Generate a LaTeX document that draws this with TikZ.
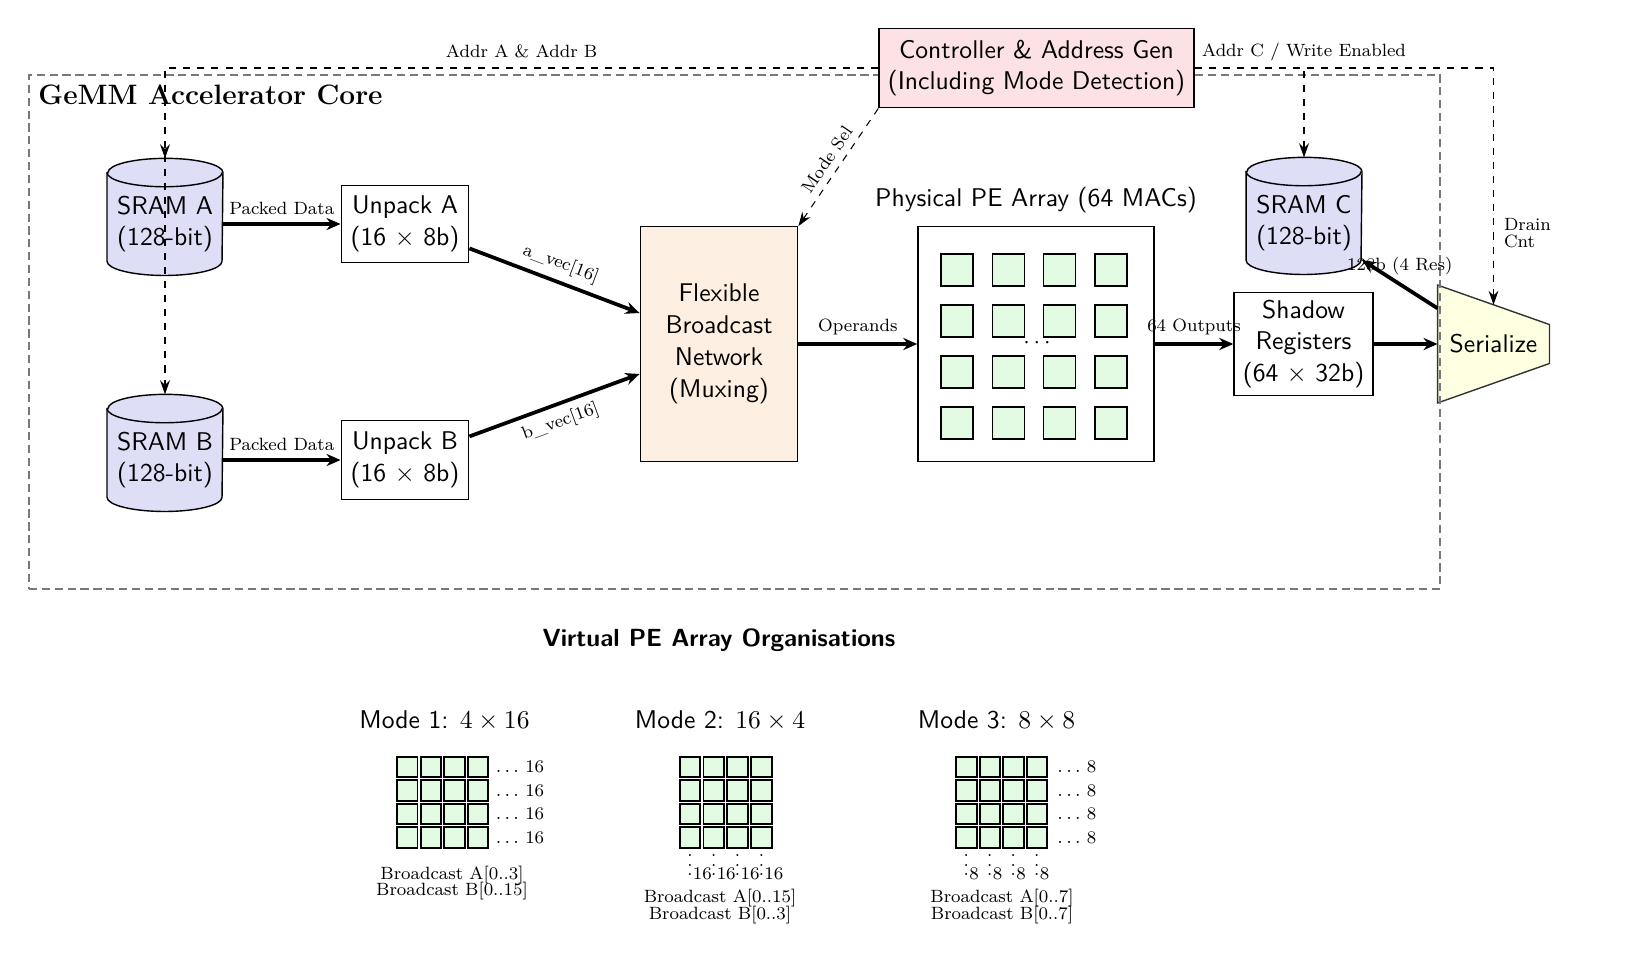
\documentclass[tikz,border=0pt]{standalone}
\usetikzlibrary{arrows.meta,calc,backgrounds}
\newdimen\pxu
\pxu=0.4274pt
\newcommand\lblfont{\fontsize{7.6}{7}\selectfont\lineskiplimit=-5pt\relax}
\definecolor{sramfill}{RGB}{222,222,247}
\definecolor{ctrlfill}{RGB}{252,226,228}
\definecolor{fbnfill}{RGB}{253,240,226}
\definecolor{serfill}{RGB}{255,255,225}
\definecolor{pefill}{RGB}{226,250,226}
\definecolor{coregray}{RGB}{120,120,120}
\tikzset{
  txt/.style={font=\fontsize{10.95}{13.6}\selectfont\sffamily, align=center},
  lbl/.style={font=\lblfont, inner sep=3pt},
  blk/.style={draw, line width=0.6pt, txt, inner sep=0pt},
  bus/.style={line width=1.6pt, -{Stealth[length=6pt,width=5.2pt]}},
  ctl/.style={dashed, line width=0.45pt, -{Stealth[length=6pt,width=4.2pt,inset=2pt]}},
  cylbox/.style={txt, inner sep=0pt, minimum width=115*\pxu, minimum height=102*\pxu},
  pesq/.style={draw, line width=0.6pt, fill=pefill, minimum size=32*\pxu, inner sep=0pt},
  msq/.style={draw, line width=0.8pt, fill=pefill, minimum size=20.5*\pxu, inner sep=0pt},
}
\newcommand\drawcyl[1]{%
  \draw[fill=sramfill, line width=0.6pt] (#1.north west) -- ([yshift=14.2*\pxu]#1.south west)
    arc[start angle=180, end angle=360, x radius=57.5*\pxu, y radius=14.2*\pxu]
    -- (#1.north east)
    arc[start angle=0, end angle=180, x radius=57.5*\pxu, y radius=14.2*\pxu] -- cycle;
  \draw[line width=0.6pt] (#1.north west) arc[start angle=180, end angle=360, x radius=57.5*\pxu, y radius=14.2*\pxu];
}
\begin{document}
\begin{tikzpicture}[x=0.4274pt, y=0.4274pt]
\useasboundingbox (0,0) rectangle (1636,-961);
% core box
\node[draw=coregray, dash pattern=on 3.5pt off 2pt, line width=0.85pt, minimum width=1411*\pxu, minimum height=514*\pxu, inner sep=0pt] (core) at (734.5,-332) {};
\node[anchor=base west, inner sep=0pt, font=\fontsize{12}{14}\selectfont\bfseries] (coretitle) at (38,-104) {GeMM Accelerator Core};
% blocks
\node[cylbox] (sramA) at (165,-224) {SRAM A\\(128-bit)};
\node[cylbox] (sramB) at (165,-460) {SRAM B\\(128-bit)};
\node[cylbox] (sramC) at (1304,-223) {SRAM C\\(128-bit)};
\node[blk, minimum width=127.5*\pxu, minimum height=77*\pxu] (unpA) at (405,-224) {Unpack A\\(16 $\times$ 8b)};
\node[blk, minimum width=127.5*\pxu, minimum height=79*\pxu] (unpB) at (405,-460) {Unpack B\\(16 $\times$ 8b)};
\node[blk, fill=fbnfill, minimum width=157.5*\pxu, minimum height=234.5*\pxu] (fbn) at (719,-344) {Flexible\\Broadcast\\Network\\(Muxing)};
\node[draw, line width=0.6pt, minimum width=236*\pxu, minimum height=234.5*\pxu, inner sep=0pt] (pe) at (1036,-344) {};
\node[txt] (petitle) at (1036,-200) {Physical PE Array (64 MACs)};
\foreach \i in {0,...,3}{\foreach \j in {0,...,3}{\node[pesq] (pe\i\j) at ({957+51.3*\i},{-270-51*\j}) {};}}
\node[inner sep=0pt] (pedots) at (1037,-343) {$\cdots$};
\node[blk, minimum width=139*\pxu, minimum height=102.5*\pxu] (shadow) at (1303.5,-344) {Shadow\\Registers\\(64 $\times$ 32b)};
\node[txt, inner sep=0pt, minimum width=111*\pxu, minimum height=117*\pxu] (ser) at (1493.5,-344) {Serialize};
\node[blk, fill=ctrlfill, minimum width=315*\pxu, minimum height=79.5*\pxu] (ctrl) at (1036.5,-68) {Controller \& Address Gen\\(Including Mode Detection)};
% background shapes
\begin{scope}[on background layer]
\drawcyl{sramA}
\drawcyl{sramB}
\drawcyl{sramC}
\draw[fill=serfill, draw=black!80, line width=0.6pt] (ser.north west) -- ([yshift=-39.5*\pxu]ser.north east) -- ([yshift=39.5*\pxu]ser.south east) -- (ser.south west) -- cycle;
\end{scope}
\coordinate (sramAtop) at ([yshift=14.2*\pxu]sramA.north);
\coordinate (sramBtop) at ([yshift=14.2*\pxu]sramB.north);
\coordinate (sramCtop) at ([yshift=14.2*\pxu]sramC.north);
\coordinate (serTop) at ($(ser.north west)!0.5!([yshift=-39.5*\pxu]ser.north east)$);
% data buses
\draw[bus] (sramA.east) -- (unpA.west) node[midway, above, lbl] (lpa) {Packed Data};
\draw[bus] (sramB.east) -- (unpB.west) node[midway, above, lbl] (lpb) {Packed Data};
\draw[bus] (unpA) -- ([yshift=31*\pxu]fbn.west) node[midway, above, sloped, lbl] (lav) {a\_vec[16]};
\draw[bus] (unpB) -- ([yshift=-30*\pxu]fbn.west) node[midway, below, sloped, lbl] (lbv) {b\_vec[16]};
\draw[bus] (fbn.east) -- (pe.west) node[midway, above, lbl] (lop) {Operands};
\draw[bus] (pe.east) -- (shadow.west) node[midway, above, lbl] (lout) {64 Outputs};
\draw[bus] (shadow.east) -- (ser.west);
\draw[bus] (ser) -- (sramC) node[midway, above, lbl] (lres) {128b (4 Res)};
% control
\draw[ctl] (ctrl.west) -| (sramAtop);
\draw[ctl] (ctrl.west) -| (sramBtop);
\path (ctrl.west) -- (ctrl.west -| sramAtop) node[midway, above=1pt, lbl] (lab) {Addr A \& Addr B};
\draw[ctl] (ctrl.east) -| (sramCtop) node[pos=0.5, above=0pt, lbl] (lc) {Addr C / Write Enabled};
\draw[ctl] (ctrl.east) -| (serTop);
\node[lbl, anchor=north west, align=left] (drain) at (1496.5,-211) {Drain\\Cnt};
\draw[ctl] (ctrl.south west) -- (fbn.north east) node[midway, above, sloped, lbl] (lms) {Mode Sel};
% virtual organisations
\node[txt, font=\fontsize{10.6}{13}\selectfont\sffamily\bfseries] (vtitle) at (719,-640) {Virtual PE Array Organisations};
% mode 1
\node[txt] (m1t) at (444.5,-721) {Mode 1: $4\times16$};
\foreach \i in {0,...,3}{\foreach \j in {0,...,3}{\node[msq] (ma\i\j) at ({407.3+23.6*\i},{-767-23.5*\j}) {};}}
\foreach \j in {0,...,3}{\node[lbl, anchor=west, inner sep=0pt] (mar\j) at ($(ma3\j.east)+(6,0)$) {$\dots$ 16};}
\node[lbl, align=center] (m1b) at (452,-883) {Broadcast A[0..3]\\Broadcast B[0..15]};
% mode 2
\node[txt] (m2t) at (720,-721) {Mode 2: $16\times4$};
\foreach \i in {0,...,3}{\foreach \j in {0,...,3}{\node[msq] (mb\i\j) at ({690+23.8*\i},{-767-23.5*\j}) {};}}
\foreach \i in {0,...,3}{
  \node[lbl, anchor=base, inner sep=0pt] (mbv\i) at ({690+23.8*\i},-875.5) {$\vdots$};
  \node[lbl, anchor=base west, inner sep=0pt] (mbn\i) at ({692.5+23.8*\i},-879) {16};
}
\node[lbl, align=center] (m2b) at (720,-906.5) {Broadcast A[0..15]\\Broadcast B[0..3]};
% mode 3
\node[txt] (m3t) at (996.5,-721) {Mode 3: $8\times8$};
\foreach \i in {0,...,3}{\foreach \j in {0,...,3}{\node[msq] (mc\i\j) at ({966.3+23.5*\i},{-767-23.5*\j}) {};}}
\foreach \j in {0,...,3}{\node[lbl, anchor=west, inner sep=0pt] (mcr\j) at ($(mc3\j.east)+(9,0)$) {$\dots$ 8};}
\foreach \i in {0,...,3}{
  \node[lbl, anchor=base, inner sep=0pt] (mcv\i) at ({966.3+23.5*\i},-875.5) {$\vdots$};
  \node[lbl, anchor=base west, inner sep=0pt] (mcn\i) at ({968.8+23.5*\i},-879) {8};
}
\node[lbl, align=center] (m3b) at (1002,-906.5) {Broadcast A[0..7]\\Broadcast B[0..7]};
\end{tikzpicture}
\end{document}
